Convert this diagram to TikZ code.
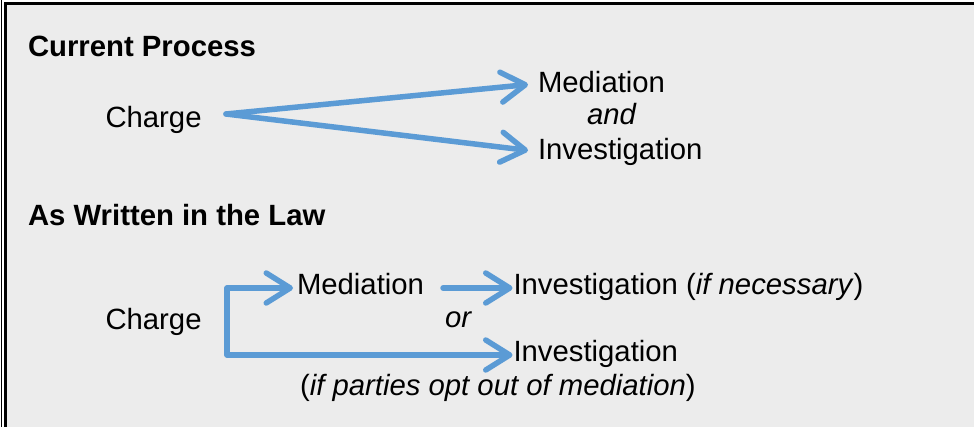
\documentclass[tikz,border=0pt]{standalone}
\usepackage{fontspec}
\setmainfont{Liberation Sans}
\usetikzlibrary{arrows.meta,calc}
\definecolor{bg}{HTML}{ECECEC}
\definecolor{arr}{HTML}{5B9BD5}
\begin{document}
\begin{tikzpicture}[x=1pt,y=-1pt,
  txt/.style={anchor=base west,inner sep=0pt,outer sep=0pt,font=\fontsize{29.3}{34}\selectfont},
  hdr/.style={txt,font=\fontsize{29.3}{34}\selectfont\bfseries},
  barb/.tip={Straight Barb[length=24pt,width=30pt,round]},
  flow/.style={draw=arr,line width=5.5pt,line cap=round,line join=round,-barb},
  flowboth/.style={draw=arr,line width=5.5pt,line cap=round,line join=round,barb-barb}]
\useasboundingbox (0,0) rectangle (974,427);
\fill[bg] (5.5,4) rectangle (974,427);
\draw[line width=1pt] (1.5,0) -- (1.5,427);
\draw[line width=3pt] (5.5,427) -- (5.5,4) -- (974,4);

\node[hdr] (h1) at (28,57) {Current Process};
\node[txt] (c1) at (105.5,128) {Charge};
\node[txt] (m1) at (538,93) {Mediation};
\node[txt] (and) at (587,125) {\itshape and};
\node[txt] (i1) at (538,160) {Investigation};

\node[hdr] (h2) at (28,226) {As Written in the Law};
\node[txt] (c2) at (105.5,330) {Charge};
\node[txt] (m2) at (297,295) {Mediation};
\node[txt] (or) at (445,328) {\itshape or};
\node[txt] (i2) at (513.5,295) {Investigation (\textit{if necessary})};
\node[txt] (i3) at (513.5,362) {Investigation};
\node[txt] (note) at (300,395) {(\textit{if parties opt out of mediation})};

\coordinate (s1) at (226,114);
\coordinate (b1) at (227,288);
\coordinate (b2) at (227,355);

\draw[flow] (s1) -- ($(m1.west)+(-10,2)$);
\draw[flow] (s1) -- ($(i1.west)+(-10,-2)$);

\draw[flowboth] ($(b1 -| m2.west)+(-4,0)$) -- (b1) -- (b2) -- ($(b2 -| i3.west)+(-1,0)$);
\draw[flow] ($(b1 -| m2.east)+(19,0)$) -- ($(b1 -| i2.west)+(-1,0)$);
\end{tikzpicture}
\end{document}
